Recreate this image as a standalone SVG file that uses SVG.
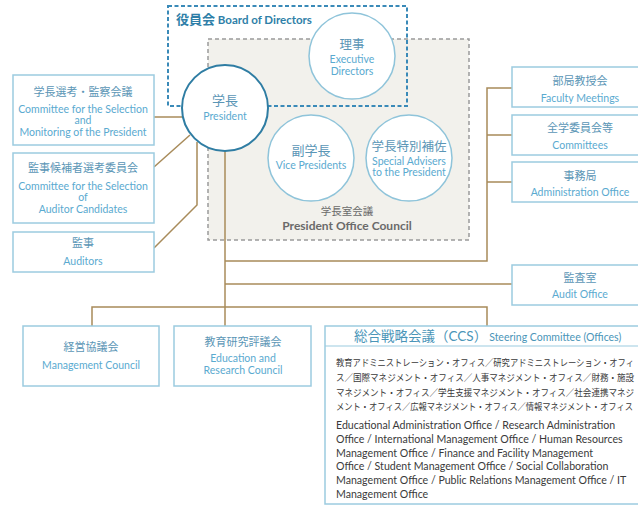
<svg xmlns="http://www.w3.org/2000/svg" width="638" height="507" viewBox="0 0 638 507">
<style>
.box{fill:#fff;stroke:#9ccbe0;stroke-width:1.5}
.jp{font-family:"Lato","Noto Sans CJK JP",sans-serif;fill:#5b96b6;text-anchor:middle}
.en{font-family:"Lato","Noto Sans CJK JP",sans-serif;fill:#5aaad0;text-anchor:middle;font-size:10.5px}
.circ{fill:#fff;stroke:#8fc4da;stroke-width:1.5}
.con{fill:none;stroke:#a88b5a;stroke-width:1.5}
.body{font-family:"Lato","Noto Sans CJK JP",sans-serif;fill:#3a3a3a}
</style>
<rect id="council" x="208" y="39" width="261" height="201" fill="#f2f1ec" stroke="#9a9a9a" stroke-width="1.5" stroke-dasharray="4 3"/>
<g id="council-label">
<text x="347" y="215" font-family="Lato,'Noto Sans CJK JP',sans-serif" font-size="10.5" fill="#6a6a6a" text-anchor="middle">学長室会議</text>
<text x="347" y="230" font-family="Lato,'Noto Sans CJK JP',sans-serif" font-size="12" font-weight="bold" fill="#6a6a6a" text-anchor="middle">President Office Council</text>
</g>
<g id="board">
<rect x="168" y="6" width="239" height="100" fill="none" stroke="#3a8ab8" stroke-width="2" stroke-dasharray="4 2.5"/>
<text x="176" y="24" font-family="Lato,'Noto Sans CJK JP',sans-serif" fill="#2f7fa8" font-weight="bold"><tspan font-size="13">役員会</tspan><tspan font-size="11.5"> Board of Directors</tspan></text>
</g>
<g id="connectors">
<path class="con" d="M154 117H184"/>
<path class="con" d="M154 167L190 135"/>
<path class="con" d="M154 248L197 205V142"/>
<path class="con" d="M225 151V326"/>
<path class="con" d="M225 261H487V88H512M487 135H512M487 182H512"/>
<path class="con" d="M225 284H512"/>
<path class="con" d="M92 326V307H487V326"/>
</g>
<g id="president">
<circle cx="225" cy="108" r="43" fill="#fff" stroke="#2f7da3" stroke-width="2"/>
<text class="jp" x="225" y="105" font-size="13">学長</text>
<text class="en" x="225" y="120" font-size="11">President</text>
</g>
<g id="executive">
<circle class="circ" cx="352" cy="56" r="43"/>
<text class="jp" x="352" y="49" font-size="12.5">理事</text>
<text class="en" x="352" y="63">Executive</text>
<text class="en" x="352" y="75">Directors</text>
</g>
<g id="vice">
<circle class="circ" cx="311" cy="158" r="43"/>
<text class="jp" x="311" y="155" font-size="13">副学長</text>
<text class="en" x="311" y="169">Vice Presidents</text>
</g>
<g id="advisers">
<circle class="circ" cx="409" cy="158" r="43"/>
<text class="jp" x="409" y="151" font-size="12.5">学長特別補佐</text>
<text class="en" x="409" y="165">Special Advisers</text>
<text class="en" x="409" y="176">to the President</text>
</g>
<g id="selection">
<rect class="box" x="13" y="75" width="141" height="70"/>
<text class="jp" x="83" y="96" font-size="11">学長選考・監察会議</text>
<text class="en" x="83" y="113">Committee for the Selection</text>
<text class="en" x="83" y="124">and</text>
<text class="en" x="83" y="136">Monitoring of the President</text>
</g>
<g id="auditor-candidates">
<rect class="box" x="13" y="153" width="141" height="70"/>
<text class="jp" x="83" y="172" font-size="11">監事候補者選考委員会</text>
<text class="en" x="83" y="190">Committee for the Selection</text>
<text class="en" x="83" y="201">of</text>
<text class="en" x="83" y="213">Auditor Candidates</text>
</g>
<g id="auditors">
<rect class="box" x="13" y="232" width="141" height="40"/>
<text class="jp" x="83" y="247" font-size="11">監事</text>
<text class="en" x="83" y="265">Auditors</text>
</g>
<g id="faculty">
<rect class="box" x="512" y="67" width="140" height="40"/>
<text class="jp" x="580" y="85" font-size="11">部局教授会</text>
<text class="en" x="580" y="102">Faculty Meetings</text>
</g>
<g id="committees">
<rect class="box" x="512" y="115" width="140" height="40"/>
<text class="jp" x="580" y="132" font-size="11">全学委員会等</text>
<text class="en" x="580" y="149">Committees</text>
</g>
<g id="admin">
<rect class="box" x="512" y="162" width="140" height="40"/>
<text class="jp" x="580" y="180" font-size="11">事務局</text>
<text class="en" x="580" y="196">Administration Office</text>
</g>
<g id="audit">
<rect class="box" x="512" y="265" width="140" height="40"/>
<text class="jp" x="580" y="282" font-size="11">監査室</text>
<text class="en" x="580" y="298">Audit Office</text>
</g>
<g id="management">
<rect class="box" x="23" y="326" width="136" height="60"/>
<text class="jp" x="91" y="351" font-size="11">経営協議会</text>
<text class="en" x="91" y="369">Management Council</text>
</g>
<g id="education">
<rect class="box" x="174" y="326" width="137" height="60"/>
<text class="jp" x="243" y="346" font-size="11">教育研究評議会</text>
<text class="en" x="243" y="362">Education and</text>
<text class="en" x="243" y="374">Research Council</text>
</g>
<g id="ccs">
<rect class="box" x="325" y="326" width="330" height="178"/>
<line x1="325" y1="346" x2="638" y2="346" stroke="#9ccbe0" stroke-width="1.2"/>
<text x="354" y="341" font-family="Lato,'Noto Sans CJK JP',sans-serif" fill="#4a95b8"><tspan font-size="13.5">総合戦略会議（CCS）</tspan><tspan font-size="10.5" dx="2">Steering Committee (Offices)</tspan></text>
<g class="body" font-size="9.5">
<text x="336" y="366" textLength="298" lengthAdjust="spacingAndGlyphs">教育アドミニストレーション・オフィス／研究アドミニストレーション・オフィ</text>
<text x="336" y="381" textLength="298" lengthAdjust="spacingAndGlyphs">ス／国際マネジメント・オフィス／人事マネジメント・オフィス／財務・施設</text>
<text x="336" y="396" textLength="298" lengthAdjust="spacingAndGlyphs">マネジメント・オフィス／学生支援マネジメント・オフィス／社会連携マネジ</text>
<text x="336" y="410" textLength="297" lengthAdjust="spacingAndGlyphs">メント・オフィス／広報マネジメント・オフィス／情報マネジメント・オフィス</text>
</g>
<g class="body" font-size="10.6">
<text x="336" y="429">Educational Administration Office / Research Administration</text>
<text x="336" y="443">Office / International Management Office / Human Resources</text>
<text x="336" y="457">Management Office / Finance and Facility Management</text>
<text x="336" y="470">Office / Student Management Office / Social Collaboration</text>
<text x="336" y="484">Management Office / Public Relations Management Office / IT</text>
<text x="336" y="498">Management Office</text>
</g>
</g>
</svg>
